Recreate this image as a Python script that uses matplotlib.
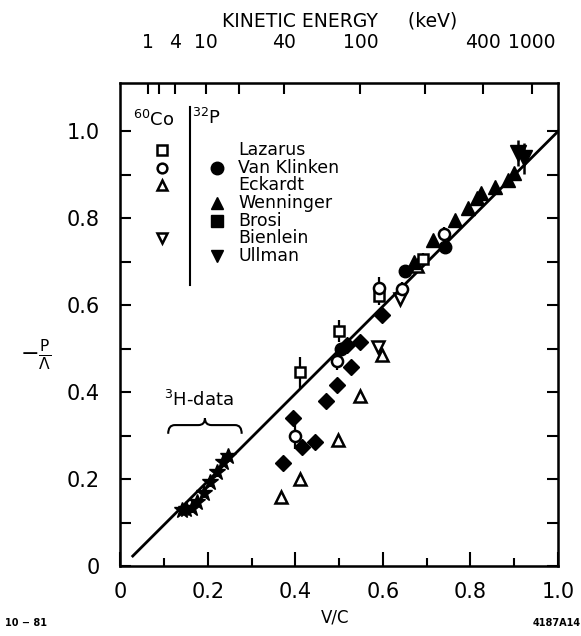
import numpy as np
import matplotlib
matplotlib.use("Agg")
import matplotlib.pyplot as plt
from matplotlib.path import Path
from matplotlib.patches import PathPatch

plt.rcParams["font.family"] = ["DejaVu Sans"]
plt.rcParams["mathtext.default"] = "regular"

# --- data (x = v/c, y = -P/Lambda) ---
lazarus_x = [0.41, 0.50, 0.59, 0.692]
lazarus_y = [0.446, 0.542, 0.622, 0.706]
lazarus_err = [0.035, 0.025, 0.02, 0.015]

vk_co_x = [0.398, 0.496, 0.59, 0.643, 0.740]
vk_co_y = [0.300, 0.472, 0.640, 0.638, 0.765]
vk_co_err = [0.03, 0.02, 0.025, 0.015, 0.015]

vk_p_x = [0.505, 0.650, 0.742]
vk_p_y = [0.500, 0.680, 0.735]

eckardt_x = [0.368, 0.410, 0.498, 0.547, 0.597, 0.677]
eckardt_y = [0.160, 0.200, 0.290, 0.392, 0.485, 0.690]

wenninger_x = [0.670, 0.715, 0.765, 0.795, 0.814, 0.824, 0.856, 0.886, 0.900]
wenninger_y = [0.700, 0.750, 0.797, 0.823, 0.846, 0.858, 0.873, 0.888, 0.905]

brosi_x = [0.371, 0.395, 0.414, 0.445, 0.470, 0.496, 0.517, 0.528, 0.547, 0.597]
brosi_y = [0.239, 0.341, 0.275, 0.285, 0.381, 0.417, 0.509, 0.458, 0.515, 0.578]

bienlein_x = [0.589, 0.640]
bienlein_y = [0.505, 0.615]

ullman_x = [0.909, 0.922]
ullman_y = [0.950, 0.938]
ullman_err = [0.03, 0.035]

tritium_x = [0.140, 0.150, 0.163, 0.174, 0.190, 0.205, 0.220, 0.235, 0.246]
tritium_y = [0.130, 0.132, 0.134, 0.149, 0.170, 0.195, 0.218, 0.240, 0.255]
tritium_err = [0.012, 0.012, 0.012, 0.012, 0.012, 0.012, 0.012, 0.012, 0.012]

theory_x = [0.028, 1.0]
theory_y = [0.024, 1.0]

energy_ticks = [1, 2, 4, 10, 20, 40, 100, 200, 400, 1000]
energy_labels = ["1", "", "4", "10", "", "40", "100", "", "400", "1000"]

legend_names = ["Lazarus", "Van Klinken", "Eckardt", "Wenninger", "Brosi", "Bienlein", "Ullman"]
legend_co = ["s", "o", "^", None, None, "v", None]
legend_p = [None, "o", None, "^", "s", None, "v"]

ME = 511.0


def beta(t_kev):
    g = 1.0 + np.asarray(t_kev, dtype=float) / ME
    return np.sqrt(1.0 - 1.0 / g**2)


fig = plt.figure(figsize=(5.81, 6.36), dpi=100)
ax = fig.add_axes([0.2074, 0.1093, 0.7530, 0.7607])

ax.plot(theory_x, theory_y, color="black", lw=2.0, zorder=2)

open_kw = dict(mfc="white", mec="black", mew=1.8, color="black", ls="none", zorder=4)
fill_kw = dict(mfc="black", mec="black", color="black", ls="none", zorder=4)

ax.errorbar(lazarus_x, lazarus_y, yerr=lazarus_err, fmt="s", ms=7, elinewidth=1.6, **open_kw)
ax.errorbar(vk_co_x, vk_co_y, yerr=vk_co_err, fmt="o", ms=8, elinewidth=1.6, **open_kw)
ax.plot(vk_p_x, vk_p_y, "o", ms=9, **fill_kw)
ax.plot(eckardt_x, eckardt_y, "^", ms=9, **open_kw)
ax.plot(wenninger_x, wenninger_y, "^", ms=10, **fill_kw)
ax.plot(brosi_x, brosi_y, "D", ms=8, **fill_kw)
ax.plot(bienlein_x, bienlein_y, "v", ms=9, **open_kw)
ax.errorbar(ullman_x, ullman_y, yerr=ullman_err, fmt="v", ms=12, elinewidth=1.8, **fill_kw)
ax.errorbar(tritium_x, tritium_y, yerr=tritium_err, fmt="*", ms=12, elinewidth=1.4, **fill_kw)

# 3H brace and label
x0, x1, xm = 0.109, 0.277, 0.193
yb, yh, yp, d = 0.305, 0.325, 0.341, 0.015
verts = [(x0, yb), (x0, yh), (x0 + d, yh), (xm - d, yh), (xm, yh), (xm, yp),
         (xm, yh), (xm + d, yh), (x1 - d, yh), (x1, yh), (x1, yb)]
codes = [Path.MOVETO, Path.CURVE3, Path.CURVE3, Path.LINETO, Path.CURVE3, Path.CURVE3,
         Path.CURVE3, Path.CURVE3, Path.LINETO, Path.CURVE3, Path.CURVE3]
ax.add_patch(PathPatch(Path(verts, codes), fill=False, lw=1.5, color="black"))
ax.text(0.18, 0.383, r"$^{3}$H-data", fontsize=13, ha="center", va="center")

# hand drawn legend
ax.text(0.075, 1.026, r"$^{60}$Co", fontsize=13, ha="center", va="center")
ax.text(0.197, 1.030, r"$^{32}$P", fontsize=13, ha="center", va="center")
ax.plot([0.16, 0.16], [0.647, 1.056], color="black", lw=1.5)
for i, name in enumerate(legend_names):
    yy = 0.957 - 0.0405 * i
    ax.text(0.269, yy, name, fontsize=12.5, ha="left", va="center")
    if legend_co[i]:
        ax.plot([0.094], [yy], legend_co[i], ms=7, **open_kw)
    if legend_p[i]:
        ax.plot([0.22], [yy], legend_p[i], ms=9, **fill_kw)

ax.set_xlim(0, 1.0)
ax.set_ylim(0, 1.112)
ax.set_xticks([0, 0.2, 0.4, 0.6, 0.8, 1.0])
ax.set_xticklabels(["0", "0.2", "0.4", "0.6", "0.8", "1.0"])
ax.set_xticks([0.1, 0.3, 0.5, 0.7, 0.9], minor=True)
ax.set_yticks([0, 0.2, 0.4, 0.6, 0.8, 1.0])
ax.set_yticklabels(["0", "0.2", "0.4", "0.6", "0.8", "1.0"])
ax.set_yticks([0.1, 0.3, 0.5, 0.7, 0.9], minor=True)
ax.tick_params(which="both", direction="in", top=False, right=True, width=1.5, labelsize=15)
ax.tick_params(axis="x", which="major", length=10, pad=11)
ax.tick_params(axis="x", which="minor", length=6)
ax.tick_params(axis="y", which="both", length=8, pad=15)
for s in ax.spines.values():
    s.set_linewidth(1.8)

top = ax.twiny()
top.set_xlim(ax.get_xlim())
top.set_xticks(beta(energy_ticks))
top.set_xticklabels(energy_labels)
top.tick_params(direction="in", length=8, width=1.5, labelsize=13.5, pad=22)
top.set_xlabel("KINETIC ENERGY     (keV)", fontsize=13.5, labelpad=5)

fig.text(0.062, 0.442, r"$-\frac{P}{\Lambda}$", fontsize=16, ha="center", va="center")
fig.text(0.576, 0.015, "V/C", fontsize=12, ha="center", va="bottom")
fig.text(0.045, 0.012, "10 − 81", fontsize=7, fontweight="bold", ha="center", va="bottom")
fig.text(0.958, 0.012, "4187A14", fontsize=7, fontweight="bold", ha="center", va="bottom")

fig.savefig("out.png", dpi=100)
